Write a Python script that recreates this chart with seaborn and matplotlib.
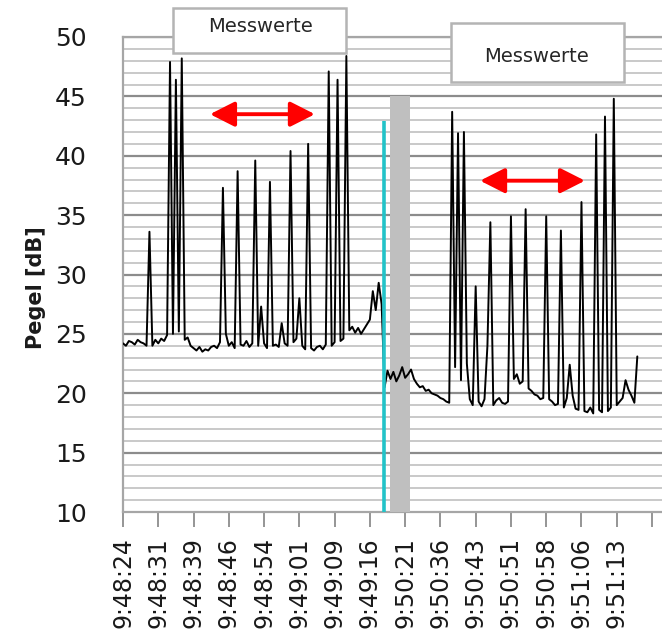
import numpy as np
import pandas as pd
import matplotlib
matplotlib.use("Agg")
import matplotlib.pyplot as plt
from matplotlib.patches import Rectangle
import seaborn as sns

# ---------------- data ----------------
tick_labels = ["9:48:24", "9:48:31", "9:48:39", "9:48:46", "9:48:54", "9:49:01",
               "9:49:09", "9:49:16", "9:50:21", "9:50:36", "9:50:43", "9:50:51",
               "9:50:58", "9:51:06", "9:51:13"]
samples_per_label = 12

pegel_part1 = [24.2, 24.0, 24.4, 24.3, 24.1, 24.5, 24.3, 24.2, 24.0, 33.6,
               24.0, 24.5, 24.2, 24.6, 24.4, 24.9, 47.9, 25.0, 46.4, 25.2,
               48.2, 24.5, 24.7, 24.0, 23.8, 23.6, 23.9, 23.5, 23.7, 23.6,
               23.9, 24.0, 23.8, 24.3, 37.3, 25.0, 24.0, 24.3, 23.8, 38.7,
               24.1, 24.0, 24.4, 23.9, 24.2, 39.6, 24.0, 27.3, 24.2, 23.8,
               37.8, 24.0, 24.1, 23.9, 25.9, 24.2, 24.0, 40.4, 24.3, 24.6,
               28.0, 24.0, 23.7, 41.0, 23.8, 23.6, 23.9, 24.0, 23.7, 24.1,
               47.1, 24.0, 24.3, 46.4, 24.4, 24.6, 48.4, 25.3, 25.6, 25.1,
               25.5, 25.0, 25.4, 25.8, 26.2, 28.6, 27.0, 29.3, 27.5]
pegel_part2 = [20.5, 21.9, 21.2, 21.8, 21.0, 21.5, 22.2, 21.3, 21.6, 22.0,
               21.2, 20.8, 20.5, 20.6, 20.2, 20.3, 20.0, 19.9, 19.8, 19.6,
               19.5, 19.3, 19.2, 43.7, 22.2, 41.9, 21.1, 42.0, 22.5, 19.5,
               19.0, 29.0, 19.3, 18.9, 19.5, 24.0, 34.4, 19.0, 19.4, 19.6,
               19.2, 19.1, 19.3, 34.9, 21.2, 21.6, 20.8, 21.0, 35.5, 20.4,
               20.2, 19.9, 19.8, 19.5, 19.6, 34.9, 19.5, 19.3, 19.0, 19.1,
               33.7, 18.8, 19.6, 22.4, 19.8, 18.7, 18.6, 36.1, 18.5, 18.4,
               18.8, 18.3, 41.8, 18.6, 18.4, 43.3, 18.5, 18.8, 44.8, 19.0,
               19.3, 19.6, 21.1, 20.3, 19.8, 19.2, 23.1]

gap_band = (90.8, 97.7)      # grey band (sample index range)
gap_band_top = 45
marker_line_x = 88.8         # cyan marker (sample index)
marker_line_top = 42.9
arrow1 = (29.6, 65.3, 43.5)
arrow2 = (121.5, 157.2, 37.9)

# ---------------- figure ----------------
sns.set_style("white")
plt.rcParams['font.family'] = ['DejaVu Sans']

values = pegel_part1 + pegel_part2
df = pd.DataFrame({"i": np.arange(len(values)), "pegel": values})

fig = plt.figure(figsize=(6.62, 6.29), dpi=100)
ax = fig.add_axes([123/662, (629-512)/629, 1 - 123/662, (512-37)/629])

sns.lineplot(data=df, x="i", y="pegel", color="black", lw=1.4, ax=ax, zorder=4)

# gap band and marker line
ax.fill_between(list(gap_band), [10, 10], [gap_band_top, gap_band_top],
                color="#bfbfbf", lw=0, zorder=3)
ax.plot([marker_line_x, marker_line_x], [10, marker_line_top],
        color="#22c3c8", lw=2.6, zorder=5, solid_capstyle="butt")

n_ticks = len(tick_labels) + 1
xt = [k * samples_per_label for k in range(n_ticks)]
ax.set_xticks(xt)
ax.set_xticklabels(tick_labels + [""], rotation=90, fontsize=17, color="#1a1a1a")
ax.set_xlim(0, 183.4)
ax.set_ylim(10, 50)
ax.set_yticks(range(10, 51, 5))
ax.set_yticklabels([str(v) for v in range(10, 51, 5)], fontsize=18, color="#1a1a1a")
ax.set_yticks(range(10, 51, 1), minor=True)

ax.grid(False)
for v in range(11, 51):
    major = v % 5 == 0
    ax.axhline(v, color="#8c8c8c" if major else "#c9c9c9", lw=1.6 if major else 1.4,
               zorder=1)

ax.tick_params(axis="x", which="major", length=11, width=1.3, color="#8c8c8c",
               pad=7, direction="out", bottom=True)
ax.tick_params(axis="y", which="both", length=0, pad=26)
ax.tick_params(axis="x", which="minor", length=0)

for s in ["left", "bottom", "top"]:
    ax.spines[s].set_visible(True)
    ax.spines[s].set_color("#a6a6a6")
    ax.spines[s].set_linewidth(1.6)
ax.spines["right"].set_visible(False)

ax.set_xlabel("")
ax.set_ylabel("Pegel [dB]", fontsize=15, fontweight="bold", color="#1a1a1a")
ax.yaxis.set_label_coords(-0.142, 0.473)

# arrows
for (x0, x1, y) in (arrow1, arrow2):
    ax.annotate("", xy=(x1, y), xytext=(x0, y),
                arrowprops=dict(arrowstyle="<|-|>,head_length=0.75,head_width=0.38",
                                color="#ff0000", lw=2.8, mutation_scale=20,
                                shrinkA=0, shrinkB=0), zorder=6)

# "Messwerte" boxes (figure pixel coords)
def fig_box(x0, x1, ytop, ybot, tx, ty):
    W, H = 662, 629
    r = Rectangle((x0 / W, 1 - ybot / H), (x1 - x0) / W, (ybot - ytop) / H,
                  transform=fig.transFigure, facecolor="white",
                  edgecolor="#b4b4b4", lw=1.8, zorder=10)
    fig.add_artist(r)
    fig.text(tx / W, 1 - ty / H, "Messwerte", ha="center", va="center",
             fontsize=14, color="#262626", zorder=11)

fig_box(173, 346, 8, 53, 261, 27)
fig_box(451, 624, 23, 82, 537, 56)

fig.savefig("out.png", dpi=100)
